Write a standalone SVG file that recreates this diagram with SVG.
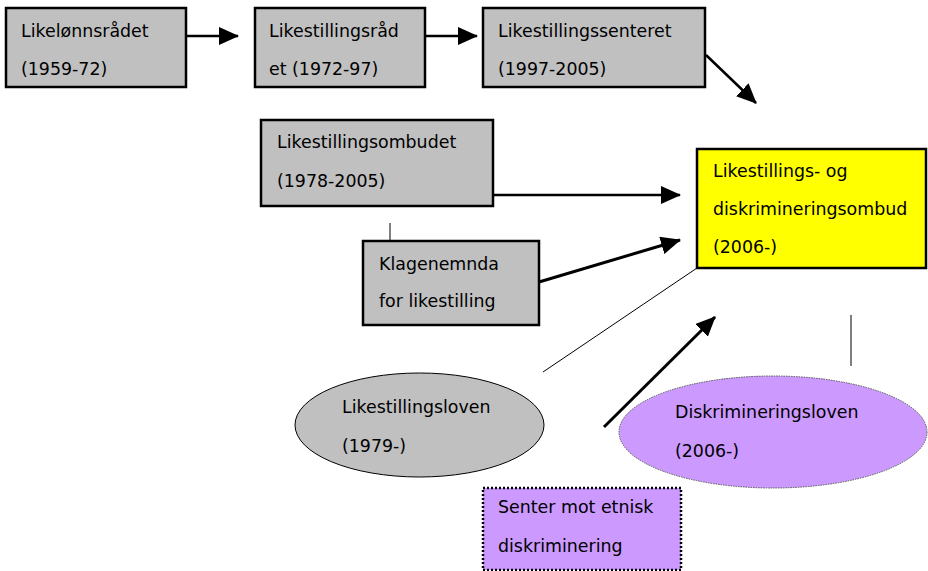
<svg xmlns="http://www.w3.org/2000/svg" width="928" height="571" viewBox="0 0 928 571">
<defs>
<marker id="ah" markerUnits="userSpaceOnUse" markerWidth="20" markerHeight="18" refX="19" refY="9" orient="auto">
<path d="M0,0 L20,9 L0,18 Z" fill="#000"/>
</marker>
<style>
text{font-family:"DejaVu Sans","Liberation Sans",sans-serif;font-size:17.4px;fill:#000}
.box{fill:#c0c0c0;stroke:#000;stroke-width:2.5}
.yel{fill:#ffff00;stroke:#000;stroke-width:2.5}
.purp{fill:#cc99ff}
.ar{stroke:#000;stroke-width:2.5;fill:none;marker-end:url(#ah)}
.thin{stroke:#000;stroke-width:1;fill:none}
</style>
</defs>
<rect width="928" height="571" fill="#fff"/>
<g id="connectors">
<line class="ar" x1="186" y1="36" x2="238" y2="36"/>
<line class="ar" x1="425" y1="36" x2="477" y2="36"/>
<line class="ar" x1="706" y1="55" x2="756" y2="103"/>
<line class="ar" x1="493" y1="195" x2="680" y2="195"/>
<line class="ar" style="stroke-width:3" x1="539" y1="282" x2="680" y2="240"/>
<line class="thin" x1="390" y1="223" x2="390" y2="241"/>
<line class="thin" x1="697" y1="268" x2="543" y2="372"/>
<line class="ar" style="stroke-width:3" x1="604" y1="427" x2="715" y2="317"/>
<line class="thin" x1="851" y1="315" x2="851" y2="366"/>
</g>
<g id="likelonnsradet">
<rect class="box" x="6" y="8" width="180" height="79"/>
<text x="21" y="37">Likelønnsrådet</text>
<text x="21" y="75">(1959-72)</text>
</g>
<g id="likestillingsradet">
<rect class="box" x="255" y="8" width="170" height="79"/>
<text x="269" y="37">Likestillingsråd</text>
<text x="269" y="75">et (1972-97)</text>
</g>
<g id="likestillingssenteret">
<rect class="box" x="483" y="8" width="222" height="79"/>
<text x="498" y="37">Likestillingssenteret</text>
<text x="498" y="75">(1997-2005)</text>
</g>
<g id="likestillingsombudet">
<rect class="box" x="261" y="120" width="232" height="86"/>
<text x="277" y="148">Likestillingsombudet</text>
<text x="277" y="187">(1978-2005)</text>
</g>
<g id="klagenemnda">
<rect class="box" x="363" y="241" width="176" height="84"/>
<text x="379" y="270">Klagenemnda</text>
<text x="379" y="307">for likestilling</text>
</g>
<g id="ldo">
<rect class="yel" x="697" y="149" width="229" height="119"/>
<text x="713" y="177">Likestillings- og</text>
<text x="713" y="215">diskrimineringsombud</text>
<text x="713" y="253">(2006-)</text>
</g>
<g id="likestillingsloven">
<ellipse cx="419.5" cy="425" rx="124.5" ry="52" fill="#c0c0c0" stroke="#000" stroke-width="1"/>
<text x="342" y="413">Likestillingsloven</text>
<text x="342" y="452">(1979-)</text>
</g>
<g id="diskrimineringsloven">
<ellipse class="purp" cx="773" cy="432" rx="154" ry="56" stroke="#555" stroke-width="1" stroke-dasharray="1.5,1"/>
<text x="675" y="418">Diskrimineringsloven</text>
<text x="675" y="457">(2006-)</text>
</g>
<g id="senter">
<rect class="purp" x="483" y="488" width="198" height="82" stroke="#000" stroke-width="2.5" stroke-dasharray="2,2"/>
<text x="498" y="513">Senter mot etnisk</text>
<text x="498" y="552">diskriminering</text>
</g>
</svg>
